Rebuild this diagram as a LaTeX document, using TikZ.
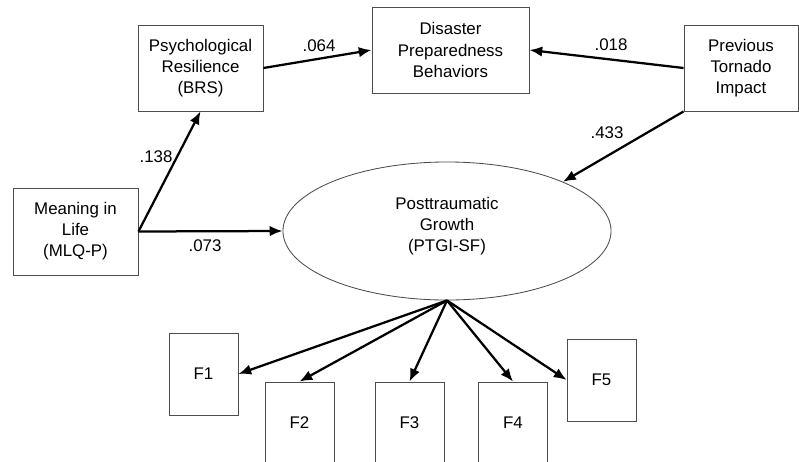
\documentclass[tikz,border=0pt]{standalone}
\usepackage{fontspec}
\setmainfont{Liberation Sans}
\usetikzlibrary{arrows.meta,shapes.geometric}
\begin{document}
\begin{tikzpicture}[x=0.025cm,y=-0.025cm,
  box/.style={draw=black!70,line width=0.6pt,inner sep=0pt,align=center,
    font=\fontsize{12}{15}\selectfont},
  fbox/.style={box,minimum width=1.725cm,minimum height=2.05cm},
  arr/.style={line width=1.6pt,-{Latex[length=3.2mm,width=2.6mm]}},
  lab/.style={font=\fontsize{12}{15}\selectfont,inner sep=0pt}]
\clip (0,0) rectangle (799,461);
\fill[white] (0,0) rectangle (799,461);
\node[box,minimum width=3.125cm,minimum height=2.15cm] (psy) at (200.5,68) {Psychological\\Resilience\\(BRS)};
\node[box,minimum width=3.925cm,minimum height=2.15cm] (dis) at (450.5,50) {Disaster\\Preparedness\\Behaviors};
\node[box,minimum width=2.85cm,minimum height=2.15cm] (prev) at (741,68) {Previous\\Tornado\\Impact};
\node[box,minimum width=3.125cm,minimum height=2.175cm] (mean) at (75.5,231.5) {Meaning in\\Life\\(MLQ-P)};
\node[draw=black!70,line width=0.6pt,ellipse,minimum width=8.2cm,minimum height=3.45cm,inner sep=0pt] (ptg) at (447,231) {};
\node[lab,align=center] (ptgt) at (447,226) {Posttraumatic\\Growth\\(PTGI-SF)};
\node[fbox] (f1) at (203.5,374) {F1};
\node[fbox] (f2) at (299.5,423) {F2};
\node[fbox] (f3) at (409.5,423) {F3};
\node[fbox] (f4) at (513,423) {F4};
\node[fbox] (f5) at (601.5,380) {F5};
\draw[arr] (mean.east) -- (psy.south);
\draw[arr] (mean.east) -- (ptg.west);
\draw[arr] (psy.east) -- (dis.west);
\draw[arr] (prev.west) -- (dis.east);
\draw[arr] (prev.south west) -- (ptg.23);
\draw[arr] (ptg.south) -- (f1.east);
\draw[arr] (ptg.south) -- (f2.north);
\draw[arr] (ptg.south) -- (f3.north);
\draw[arr] (ptg.south) -- (f4.north);
\draw[arr] (ptg.south) -- (f5.west);
\node[lab] (l1) at (319,46) {.064};
\node[lab] (l2) at (611,45) {.018};
\node[lab] (l3) at (607,133) {.433};
\node[lab] (l4) at (156,157) {.138};
\node[lab] (l5) at (205,246) {.073};
\end{tikzpicture}
\end{document}
